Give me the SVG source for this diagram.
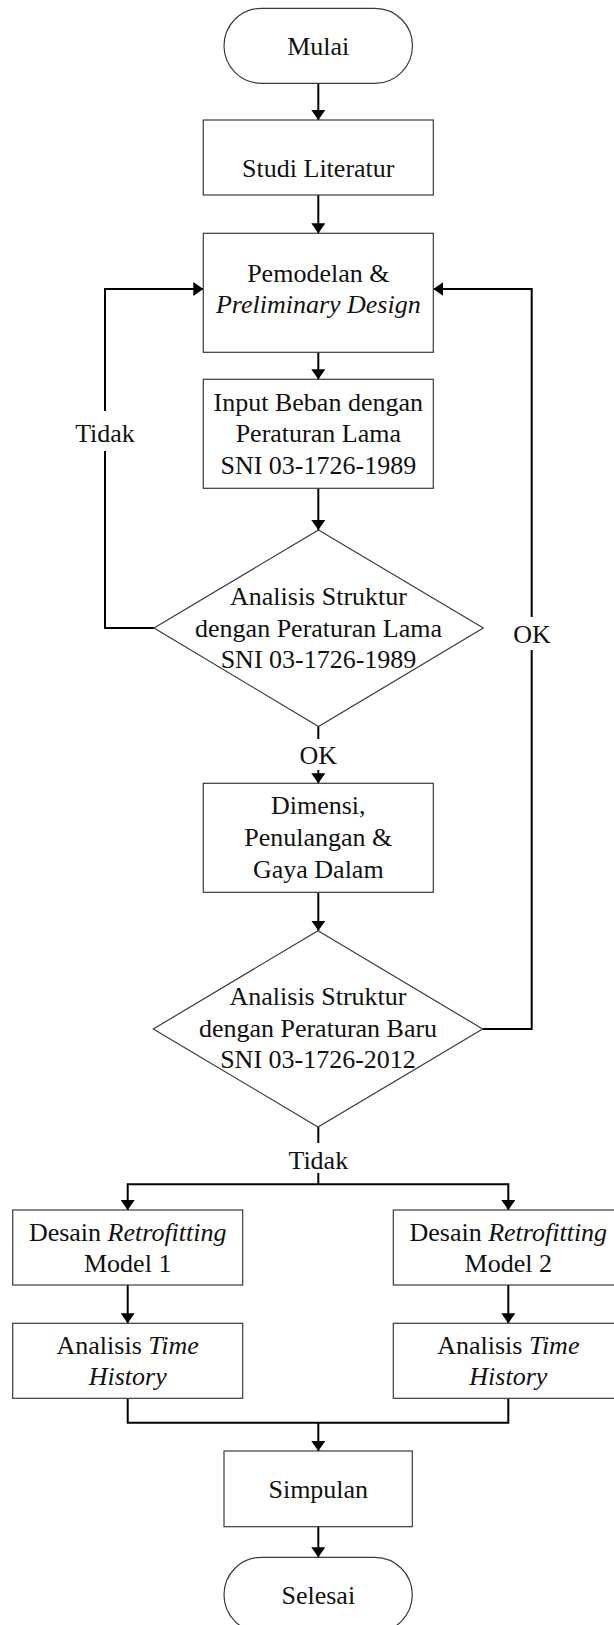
<svg xmlns="http://www.w3.org/2000/svg" width="614" height="1625" viewBox="0 0 614 1625">
<style>
.box{fill:#fff;stroke:#3a3a3a;stroke-width:1.2}
.con{fill:none;stroke:#000;stroke-width:2}
text{font-family:"Liberation Serif","Times New Roman",serif;font-size:26px;fill:#111;text-anchor:middle}
.it{font-style:italic}
.bg{fill:#fff}
</style>
<defs>
<marker id="ah" viewBox="0 0 10 14" refX="10" refY="7" markerWidth="10" markerHeight="14" markerUnits="userSpaceOnUse" orient="auto">
<path d="M0,0 L10,7 L0,14 z" fill="#000"/>
</marker>
</defs>
<rect width="614" height="1625" fill="#fff"/>
<g id="connectors">
<path class="con" d="M318.3,83.3 V120" marker-end="url(#ah)"/>
<path class="con" d="M318.3,195 V233.3" marker-end="url(#ah)"/>
<path class="con" d="M318.3,352.3 V379.3" marker-end="url(#ah)"/>
<path class="con" d="M318.3,488.3 V530" marker-end="url(#ah)"/>
<path class="con" d="M154,628 H105 V289 H203.3" marker-end="url(#ah)"/>
<path class="con" d="M318.3,726.5 V783.3" marker-end="url(#ah)"/>
<path class="con" d="M318.3,892.3 V930.7" marker-end="url(#ah)"/>
<path class="con" d="M482.7,1029 H531.7 V289 H433.3" marker-end="url(#ah)"/>
<path class="con" d="M318.3,1127 V1184.3"/>
<path class="con" d="M318.3,1184.3 H127.7 V1210" marker-end="url(#ah)"/>
<path class="con" d="M318.3,1184.3 H508.3 V1210" marker-end="url(#ah)"/>
<path class="con" d="M127.7,1285 V1323.3" marker-end="url(#ah)"/>
<path class="con" d="M508.3,1285 V1323.3" marker-end="url(#ah)"/>
<path class="con" d="M127.7,1398.3 V1422.7 H508.3 V1398.3"/>
<path class="con" d="M318.3,1422.7 V1451" marker-end="url(#ah)"/>
<path class="con" d="M318.3,1526.7 V1557.3" marker-end="url(#ah)"/>
<rect class="bg" x="75" y="411" width="60" height="40"/>
<text x="105" y="441.7">Tidak</text>
<rect class="bg" x="510" y="617" width="44" height="33"/>
<text x="532" y="642.7">OK</text>
<rect class="bg" x="296" y="739" width="44" height="31"/>
<text x="318.3" y="764">OK</text>
<rect class="bg" x="288" y="1143" width="60" height="30"/>
<text x="318.3" y="1169.4">Tidak</text>
</g>
<g id="mulai">
<rect class="box" x="224" y="8.3" width="188.5" height="75" rx="37.5" ry="37.5"/>
<text x="318.3" y="55">Mulai</text>
</g>
<g id="studi">
<rect class="box" x="203.3" y="120" width="230" height="75"/>
<text x="318.3" y="176.7">Studi Literatur</text>
</g>
<g id="pemodelan">
<rect class="box" x="203.3" y="233.3" width="230" height="119"/>
<text x="318.3" y="281.7">Pemodelan &amp;</text>
<text x="318.3" y="312.7" class="it">Preliminary Design</text>
</g>
<g id="input">
<rect class="box" x="203.3" y="379.3" width="230" height="109"/>
<text x="318.3" y="410.7">Input Beban dengan</text>
<text x="318.3" y="442.3">Peraturan Lama</text>
<text x="318.3" y="474">SNI 03-1726-1989</text>
</g>
<g id="analisis-lama">
<polygon class="box" points="318.5,530 483.3,628 318.5,726.5 154,628"/>
<text x="318.5" y="605">Analisis Struktur</text>
<text x="318.5" y="636.7">dengan Peraturan Lama</text>
<text x="318.5" y="668.3">SNI 03-1726-1989</text>
</g>
<g id="dimensi">
<rect class="box" x="203.3" y="783.3" width="230" height="109"/>
<text x="318.3" y="814">Dimensi,</text>
<text x="318.3" y="846">Penulangan &amp;</text>
<text x="318.3" y="877.7">Gaya Dalam</text>
</g>
<g id="analisis-baru">
<polygon class="box" points="318,930.7 482.7,1029 318,1127 153.3,1029"/>
<text x="318" y="1005">Analisis Struktur</text>
<text x="318" y="1036.7">dengan Peraturan Baru</text>
<text x="318" y="1068.3">SNI 03-1726-2012</text>
</g>
<g id="retro1">
<rect class="box" x="12.7" y="1210" width="230" height="75"/>
<text x="127.7" y="1240.7">Desain <tspan class="it">Retrofitting</tspan></text>
<text x="127.7" y="1272.3">Model 1</text>
</g>
<g id="retro2">
<rect class="box" x="393.3" y="1210" width="230" height="75"/>
<text x="508.3" y="1240.7">Desain <tspan class="it">Retrofitting</tspan></text>
<text x="508.3" y="1272.3">Model 2</text>
</g>
<g id="time1">
<rect class="box" x="12.7" y="1323.3" width="230" height="75"/>
<text x="127.7" y="1354">Analisis <tspan class="it">Time</tspan></text>
<text x="127.7" y="1385" class="it">History</text>
</g>
<g id="time2">
<rect class="box" x="393.3" y="1323.3" width="230" height="75"/>
<text x="508.3" y="1354">Analisis <tspan class="it">Time</tspan></text>
<text x="508.3" y="1385" class="it">History</text>
</g>
<g id="simpulan">
<rect class="box" x="224" y="1451" width="188.3" height="75.7"/>
<text x="318.3" y="1498.3">Simpulan</text>
</g>
<g id="selesai">
<rect class="box" x="224" y="1557.3" width="188.3" height="75" rx="37.5" ry="37.5"/>
<text x="318.3" y="1604">Selesai</text>
</g>
</svg>
